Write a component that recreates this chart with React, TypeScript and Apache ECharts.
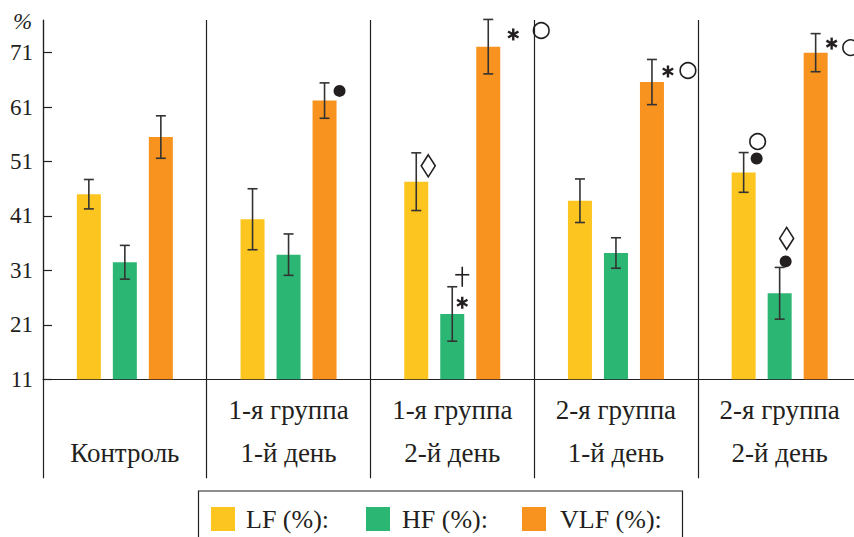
import React, { useEffect, useRef } from "react";
import * as echarts from "echarts";

// ---------- data ----------
const CATEGORIES = [
  "\nКонтроль",
  "1-я группа\n1-й день",
  "1-я группа\n2-й день",
  "2-я группа\n1-й день",
  "2-я группа\n2-й день",
];
const SERIES_NAMES = ["LF (%):", "HF (%):", "VLF (%):"];
const LF = [45.0, 40.4, 47.3, 43.8, 49.0];
const LF_ERR = [2.7, 5.6, 5.3, 4.0, 3.65];
const HF = [32.5, 33.9, 23.0, 34.2, 26.8];
const HF_ERR = [3.1, 3.8, 5.0, 2.8, 4.75];
const VLF = [55.5, 62.2, 72.1, 65.6, 71.0];
const VLF_ERR = [3.9, 3.25, 5.0, 4.15, 3.5];
const Y_TICKS = [11, 21, 31, 41, 51, 61, 71];

// significance marks: [category index, series index, symbol]
const ANNOTATIONS: [number, number, string][] = [
  [1, 2, "dot"],
  [2, 0, "diamond"],
  [2, 1, "dagger"],
  [2, 1, "star"],
  [2, 2, "star"],
  [2, 2, "ring"],
  [3, 2, "star"],
  [3, 2, "ring"],
  [4, 0, "dot"],
  [4, 0, "ring"],
  [4, 1, "dot"],
  [4, 1, "diamond"],
  [4, 2, "star"],
  [4, 2, "ring"],
];

// ---------- layout / style ----------
const ANNOT_OFFSETS: [number, number][] = [
  [15, 8],
  [12, 13],
  [10, -10],
  [10, 16],
  [25, 15],
  [53, 11],
  [16, 12],
  [36, 11],
  [13, 6],
  [14, -11],
  [6, -6],
  [7, -29],
  [16, 10],
  [35, 14],
];
const COLORS = ["#FDC51F", "#2BB673", "#F7931E"];
const INK = "#231f20";
const FONT = "'Liberation Serif', 'Times New Roman', serif";
const BAR_WIDTH = 24;
const BAR_STEP = 36;

const VALUES = [LF, HF, VLF];
const ERRS = [LF_ERR, HF_ERR, VLF_ERR];

function errorSeries(si: number) {
  return {
    type: "custom",
    name: SERIES_NAMES[si] + "err",
    z: 5,
    data: VALUES[si].map((v, i) => [i, v, ERRS[si][i]]),
    renderItem: (params: any, api: any) => {
      const x = api.value(0);
      const v = api.value(1);
      const e = api.value(2);
      const top = api.coord([x, v + e]);
      const bot = api.coord([x, v - e]);
      const cx = top[0] + (si - 1) * BAR_STEP;
      const st = { stroke: "#333", lineWidth: 1.6 };
      return {
        type: "group",
        children: [
          { type: "line", shape: { x1: cx, y1: top[1], x2: cx, y2: bot[1] }, style: st },
          { type: "line", shape: { x1: cx - 5, y1: top[1], x2: cx + 5, y2: top[1] }, style: st },
          { type: "line", shape: { x1: cx - 5, y1: bot[1], x2: cx + 5, y2: bot[1] }, style: st },
        ],
      };
    },
  };
}

function drawSymbol(sym: string, x: number, y: number) {
  const stroke = { stroke: INK, lineWidth: 1.6, fill: "none" };
  if (sym === "dot") return { type: "circle", shape: { cx: x, cy: y, r: 6 }, style: { fill: INK } };
  if (sym === "ring") return { type: "circle", shape: { cx: x, cy: y, r: 7.8 }, style: stroke };
  if (sym === "diamond")
    return {
      type: "polygon",
      shape: { points: [[x, y - 11], [x + 7, y], [x, y + 11], [x - 7, y]] },
      style: stroke,
    };
  if (sym === "dagger")
    return {
      type: "group",
      children: [
        { type: "line", shape: { x1: x, y1: y - 10, x2: x, y2: y + 10 }, style: stroke },
        { type: "line", shape: { x1: x - 7, y1: y - 2, x2: x + 7, y2: y - 2 }, style: stroke },
      ],
    };
  // star (asterisk)
  const s = { stroke: INK, lineWidth: 2.4 };
  const r = 6;
  const dx = r * Math.cos(Math.PI / 6);
  const dy = r * Math.sin(Math.PI / 6);
  return {
    type: "group",
    children: [
      { type: "line", shape: { x1: x, y1: y - r, x2: x, y2: y + r }, style: s },
      { type: "line", shape: { x1: x - dx, y1: y - dy, x2: x + dx, y2: y + dy }, style: s },
      { type: "line", shape: { x1: x - dx, y1: y + dy, x2: x + dx, y2: y - dy }, style: s },
    ],
  };
}

export default function App() {
  const ref = useRef<HTMLDivElement>(null);
  useEffect(() => {
    if (!ref.current) return;
    const chart = echarts.init(ref.current, null, { renderer: "svg" });
    const legendLefts = [211, 366, 522];
    const legendPads = [6, 7, 9];
    chart.setOption({
      animation: false,
      backgroundColor: "#ffffff",
      grid: {
        left: 43,
        top: 20,
        width: 818.5,
        height: 359.3,
        containLabel: false,
        outerBoundsMode: "none",
      },
      legend: SERIES_NAMES.map((n, i) => ({
        data: [n],
        left: legendLefts[i],
        top: 506,
        padding: 0,
        itemWidth: 24,
        itemHeight: 24,
        icon: "rect",
        selectedMode: false,
        textStyle: {
          fontFamily: FONT,
          fontSize: 26,
          color: INK,
          lineHeight: 24,
          padding: [0, 0, 0, legendPads[i]],
        },
      })),
      xAxis: {
        type: "category",
        data: CATEGORIES,
        boundaryGap: true,
        axisLine: { show: true, lineStyle: { color: INK, width: 1.2 } },
        axisTick: {
          show: true,
          interval: 0,
          inside: false,
          length: 99,
          alignWithLabel: false,
          lineStyle: { color: INK, width: 1.2 },
        },
        splitLine: { show: true, interval: 0, lineStyle: { color: INK, width: 1.2 } },
        axisLabel: {
          interval: 0,
          margin: 9,
          fontFamily: FONT,
          fontSize: 27,
          color: INK,
          lineHeight: 43,
        },
      },
      yAxis: {
        type: "value",
        min: 11,
        max: 77,
        interval: 10,
        axisLine: { show: true, lineStyle: { color: INK, width: 1.2 } },
        axisTick: {
          show: true,
          inside: true,
          length: 9,
          customValues: Y_TICKS,
          lineStyle: { color: INK, width: 1.2 },
        },
        axisLabel: {
          customValues: Y_TICKS,
          margin: 10,
          fontFamily: FONT,
          fontSize: 23,
          color: INK,
        },
        splitLine: { show: false },
      },
      graphic: [
        {
          type: "text",
          left: 13,
          top: 10,
          style: { text: "%", font: "italic 23px " + FONT, fill: INK },
        },
        {
          type: "rect",
          shape: { x: 198.5, y: 491, width: 484, height: 60 },
          style: { fill: "none", stroke: INK, lineWidth: 1.2 },
          z: 10,
        },
      ],
      series: [
        ...SERIES_NAMES.map((n, i) => ({
          type: "bar",
          name: n,
          data: VALUES[i],
          barWidth: BAR_WIDTH,
          barGap: "50%",
          itemStyle: { color: COLORS[i] },
        })),
        errorSeries(0),
        errorSeries(1),
        errorSeries(2),
        {
          type: "custom",
          name: "marks",
          z: 6,
          data: ANNOTATIONS.map(([c, s]) => [c, VALUES[s][c] + ERRS[s][c]]),
          renderItem: (params: any, api: any) => {
            const idx = params.dataIndex;
            const [, s, sym] = ANNOTATIONS[idx];
            const p = api.coord([api.value(0), api.value(1)]);
            const [ox, oy] = ANNOT_OFFSETS[idx];
            return drawSymbol(sym, p[0] + (s - 1) * BAR_STEP + ox, p[1] + oy);
          },
        },
      ],
    });
    return () => chart.dispose();
  }, []);
  return (
    <div
      ref={ref}
      style={{ position: "fixed", left: 0, top: 0, width: 854, height: 537, background: "#fff" }}
    />
  );
}
